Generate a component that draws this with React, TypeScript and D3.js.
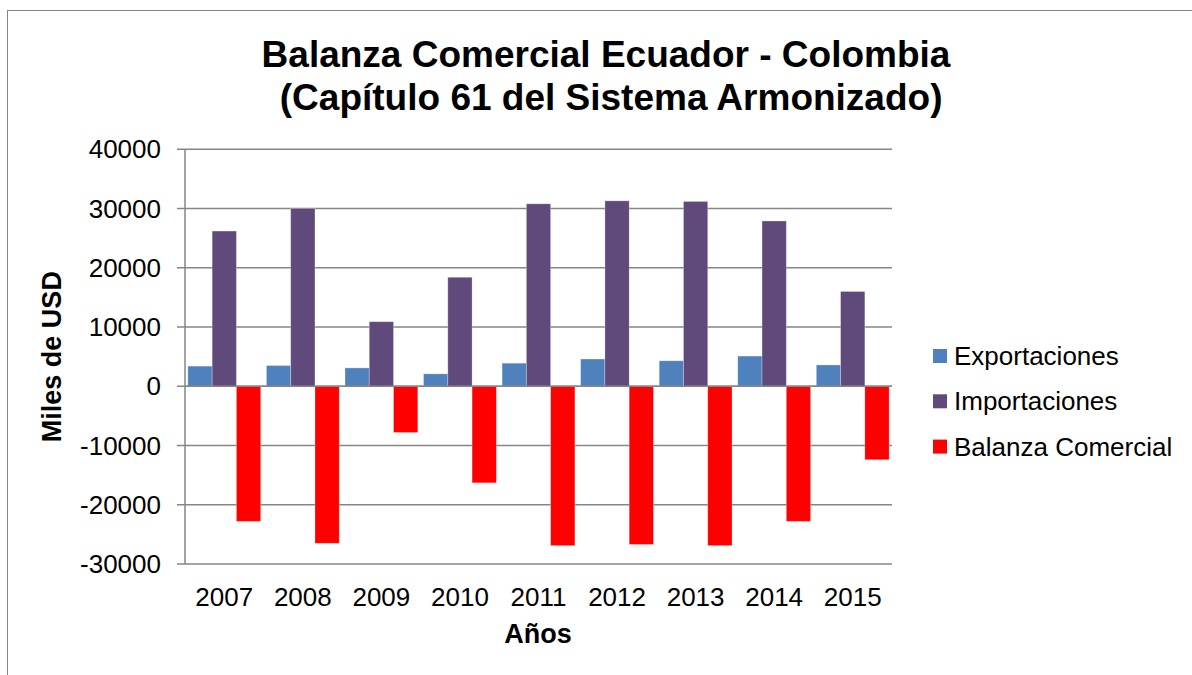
import React from "react";
import * as d3 from "d3";

const years = ["2007", "2008", "2009", "2010", "2011", "2012", "2013", "2014", "2015"];
const exportaciones = [3400, 3500, 3100, 2100, 3900, 4600, 4300, 5100, 3600];
const importaciones = [26200, 30000, 10900, 18400, 30800, 31300, 31200, 27900, 16000];
const balanza = [-22800, -26500, -7800, -16300, -26900, -26700, -26900, -22800, -12400];
const seriesNames = ["Exportaciones", "Importaciones", "Balanza Comercial"];
const seriesColors = ["#4F81BD", "#604A7B", "#FF0000"];
const yTicks = [40000, 30000, 20000, 10000, 0, -10000, -20000, -30000];
const titleLines = ["Balanza Comercial Ecuador - Colombia", " (Capítulo 61 del Sistema Armonizado)"];

export default function App() {
  const W = 1192, H = 675;
  const left = 185, right = 892, top = 149.3, bottom = 564;
  const x0 = d3.scaleBand<string>().domain(years).range([left, right]).paddingInner(0).paddingOuter(0);
  const x1 = d3.scaleBand<string>().domain(seriesNames).range([0, x0.bandwidth()]).paddingInner(0).paddingOuter(0.118);
  const y = d3.scaleLinear().domain([-30000, 40000]).range([bottom, top]);
  const allSeries = [exportaciones, importaciones, balanza];
  const font = "'Liberation Sans', Arial, sans-serif";

  return (
    <svg width={W} height={H} style={{ position: "absolute", left: 0, top: 0 }} fontFamily={font}>
      <rect x={0} y={0} width={W} height={H} fill="#fff" />
      <rect x={7.5} y={10.5} width={W + 10} height={H + 10} fill="none" stroke="#868686" strokeWidth={1} />
      {titleLines.map((t, i) => (
        <text key={i} x={606} y={67 + i * 43} textAnchor="middle" fontSize={37} fontWeight="bold" fill="#000" style={{ whiteSpace: "pre" }}>
          {t}
        </text>
      ))}
      {yTicks.map((v) => (
        <g key={v}>
          <line x1={177} x2={right} y1={y(v)} y2={y(v)} stroke="#868686" strokeWidth={1.5} />
          <text x={161} y={y(v) + 9} textAnchor="end" fontSize={26} fill="#000">{v}</text>
        </g>
      ))}
      <line x1={left} x2={left} y1={top} y2={bottom} stroke="#868686" strokeWidth={1.5} />
      {years.map((yr, i) => (
        <g key={yr}>
          {allSeries.map((s, j) => {
            const v = s[i];
            const bx = (x0(yr) as number) + (x1(seriesNames[j]) as number);
            return (
              <rect key={j} x={bx} width={x1.bandwidth()} y={Math.min(y(v), y(0))} height={Math.abs(y(v) - y(0))}
                fill={seriesColors[j]} stroke="#ffffff" strokeOpacity={0.35} strokeWidth={0.8} />
            );
          })}
          <text x={(x0(yr) as number) + x0.bandwidth() / 2} y={606} textAnchor="middle" fontSize={26} fill="#000">{yr}</text>
        </g>
      ))}
      <line x1={left} x2={right} y1={y(0)} y2={y(0)} stroke="#868686" strokeWidth={1.5} />
      <text x={538} y={643} textAnchor="middle" fontSize={27} fontWeight="bold" fill="#000">Años</text>
      <text transform={`translate(61, ${(top + bottom) / 2}) rotate(-90)`} textAnchor="middle" fontSize={27} fontWeight="bold" fill="#000">Miles de USD</text>
      {seriesNames.map((n, i) => (
        <g key={n}>
          <rect x={933} y={349 + i * 45.3} width={14} height={14} fill={seriesColors[i]} />
          <text x={954} y={365 + i * 45.3} fontSize={26} fill="#000">{n}</text>
        </g>
      ))}
    </svg>
  );
}
